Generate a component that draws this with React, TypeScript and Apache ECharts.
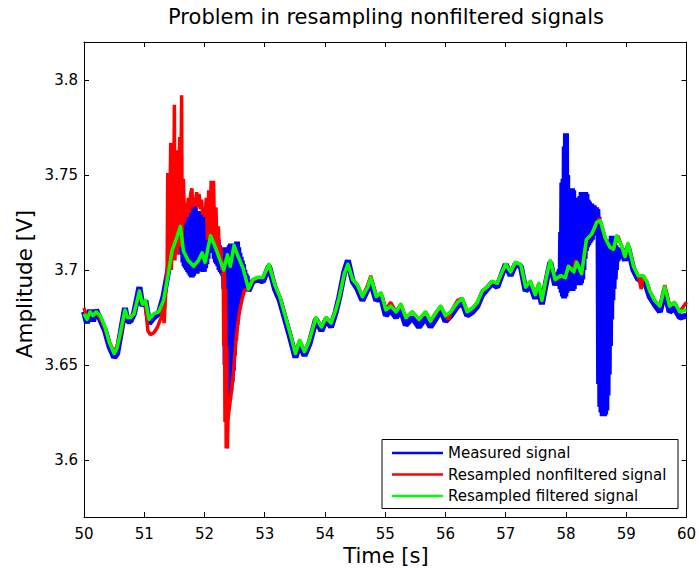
import React, { useEffect, useRef } from "react";
import * as echarts from "echarts";

const FONT = "'DejaVu Sans', 'Liberation Sans', Arial, sans-serif";

const titleText = "Problem in resampling nonfiltered signals";
const xName = "Time [s]";
const yName = "Amplitude [V]";
const seriesNames = ["Measured signal", "Resampled nonfiltered signal", "Resampled filtered signal"];
const seriesColors = ["#0000ff", "#ff0000", "#00ff00"];

const xMin = 50;
const xMax = 60;
const yMin = 3.57;
const yMax = 3.82;
const yTickValues = [3.6, 3.65, 3.7, 3.75, 3.8];

// Resampled filtered signal (green)
const greenT = [
  50.0, 50.05, 50.1, 50.15, 50.2, 50.27, 50.35, 50.42, 50.5, 50.55,
  50.61, 50.68, 50.72, 50.77, 50.83, 50.92, 50.97, 51.02, 51.08, 51.16,
  51.24, 51.32, 51.4, 51.46, 51.54, 51.6, 51.65, 51.73, 51.82, 51.9,
  51.96, 52.01, 52.1, 52.18, 52.26, 52.32, 52.38, 52.43, 52.49, 52.56,
  52.64, 52.73, 52.8, 52.88, 52.97, 53.07, 53.17, 53.25, 53.33, 53.41,
  53.51, 53.58, 53.66, 53.74, 53.85, 53.94, 54.02, 54.1, 54.18, 54.24,
  54.32, 54.38, 54.46, 54.54, 54.62, 54.71, 54.76, 54.85, 54.93, 55.01,
  55.09, 55.18, 55.26, 55.34, 55.45, 55.56, 55.67, 55.75, 55.83, 55.92,
  56.0, 56.09, 56.2, 56.28, 56.36, 56.45, 56.53, 56.61, 56.69, 56.77,
  56.86, 56.94, 57.0, 57.08, 57.16, 57.25, 57.33, 57.41, 57.49, 57.55,
  57.6, 57.68, 57.74, 57.82, 57.91, 57.99, 58.04, 58.13, 58.18, 58.26,
  58.34, 58.43, 58.51, 58.57, 58.65, 58.73, 58.79, 58.84, 58.92, 58.98,
  59.03, 59.12, 59.2, 59.28, 59.34, 59.39, 59.47, 59.56, 59.64, 59.72,
  59.8, 59.89, 60.0,
];
const greenV = [
  3.677, 3.674, 3.678, 3.676, 3.678, 3.676, 3.67, 3.662, 3.656, 3.659,
  3.668, 3.679, 3.675, 3.675, 3.677, 3.689, 3.682, 3.684, 3.674, 3.677,
  3.678, 3.684, 3.698, 3.71, 3.717, 3.723, 3.71, 3.705, 3.702, 3.705,
  3.709, 3.704, 3.718, 3.712, 3.705, 3.7, 3.708, 3.702, 3.713, 3.707,
  3.701, 3.69, 3.695, 3.696, 3.696, 3.703, 3.692, 3.686, 3.677, 3.668,
  3.656, 3.663, 3.657, 3.663, 3.675, 3.67, 3.675, 3.672, 3.679, 3.686,
  3.698, 3.703, 3.695, 3.692, 3.686, 3.691, 3.696, 3.686, 3.688, 3.679,
  3.681, 3.678, 3.682, 3.675, 3.678, 3.674, 3.678, 3.673, 3.677, 3.681,
  3.676, 3.678, 3.683, 3.685, 3.678, 3.68, 3.683, 3.689, 3.691, 3.694,
  3.693, 3.699, 3.703, 3.699, 3.704, 3.703, 3.691, 3.694, 3.687, 3.693,
  3.684, 3.697, 3.705, 3.695, 3.697, 3.696, 3.702, 3.699, 3.704, 3.698,
  3.716, 3.719, 3.725, 3.726, 3.717, 3.712, 3.711, 3.718, 3.713, 3.707,
  3.714, 3.702, 3.697, 3.697, 3.694, 3.689, 3.684, 3.681, 3.691, 3.681,
  3.683, 3.678, 3.679,
];

// Measured signal (blue): quiet stretches
const blueSeg1: [number, number][] = [
  [50.0, 3.678], [50.05, 3.672], [50.1, 3.679], [50.15, 3.673], [50.2, 3.679],
  [50.27, 3.674], [50.35, 3.668], [50.42, 3.66], [50.5, 3.654], [50.55, 3.656],
  [50.61, 3.667], [50.68, 3.68], [50.72, 3.673], [50.77, 3.673], [50.83, 3.677],
  [50.92, 3.691], [50.97, 3.681], [51.02, 3.684], [51.08, 3.672], [51.16, 3.675],
  [51.24, 3.677], [51.32, 3.686], [51.4, 3.7], [51.46, 3.712], [51.54, 3.72],
];
const blueSeg2: [number, number][] = [
  [52.73, 3.689], [52.8, 3.694], [52.88, 3.695], [52.97, 3.694], [53.07, 3.702],
  [53.17, 3.69], [53.25, 3.684], [53.33, 3.675], [53.41, 3.666], [53.51, 3.654],
  [53.58, 3.661], [53.66, 3.655], [53.74, 3.661], [53.85, 3.674], [53.94, 3.668],
  [54.02, 3.674], [54.1, 3.67], [54.18, 3.678], [54.24, 3.686], [54.32, 3.699],
  [54.38, 3.705], [54.46, 3.694], [54.54, 3.69], [54.62, 3.684], [54.71, 3.69],
  [54.76, 3.694], [54.85, 3.684], [54.93, 3.686], [55.01, 3.676], [55.09, 3.679],
  [55.18, 3.675], [55.26, 3.679], [55.34, 3.671], [55.45, 3.675], [55.56, 3.67],
  [55.67, 3.675], [55.75, 3.67], [55.83, 3.674], [55.92, 3.679], [56.0, 3.673],
  [56.09, 3.676], [56.2, 3.681], [56.28, 3.683], [56.36, 3.676], [56.45, 3.678],
  [56.53, 3.681], [56.61, 3.687], [56.69, 3.69], [56.77, 3.693], [56.86, 3.691],
  [56.94, 3.698], [57.0, 3.703], [57.08, 3.697], [57.16, 3.703], [57.25, 3.702],
  [57.33, 3.689], [57.41, 3.692], [57.49, 3.685], [57.55, 3.69], [57.6, 3.682],
  [57.68, 3.695], [57.74, 3.704], [57.82, 3.692],
];
const blueSeg3: [number, number][] = [
  [58.92, 3.711], [58.98, 3.705], [59.03, 3.712], [59.12, 3.7], [59.2, 3.695],
  [59.28, 3.695], [59.34, 3.691], [59.39, 3.686], [59.47, 3.682], [59.56, 3.678],
  [59.64, 3.689], [59.72, 3.678], [59.8, 3.68], [59.89, 3.675], [60.0, 3.676],
];

// Measured signal (blue): oscillating bands, sampled every 0.02 s (upper / lower envelope)
const bandStep = 0.02;
const bandAStart = 51.6;
const bandAUpper = [
  3.728, 3.73, 3.729, 3.731, 3.732, 3.733, 3.732, 3.734, 3.735, 3.735,
  3.736, 3.734, 3.733, 3.731, 3.73, 3.731, 3.73, 3.729, 3.728, 3.727,
  3.728, 3.726, 3.724, 3.722, 3.721, 3.722, 3.724, 3.727, 3.726, 3.722,
  3.718, 3.716, 3.713, 3.712, 3.711, 3.71,
  3.709, 3.712, 3.712, 3.71, 3.711, 3.713, 3.714, 3.712, 3.711, 3.712,
  3.713, 3.715, 3.712, 3.709, 3.707, 3.705, 3.703, 3.7, 3.698, 3.697,
];
const bandALower = [
  3.712, 3.708, 3.704, 3.702, 3.701, 3.7, 3.699, 3.698, 3.697, 3.696,
  3.697, 3.698, 3.699, 3.698, 3.699, 3.7, 3.702, 3.701, 3.7, 3.699,
  3.701, 3.703, 3.706, 3.71, 3.713, 3.714, 3.712, 3.709, 3.706, 3.704,
  3.703, 3.702, 3.7, 3.699, 3.698, 3.697,
  3.69, 3.65, 3.632, 3.628, 3.632, 3.636, 3.641, 3.647, 3.655, 3.663,
  3.671, 3.677, 3.682, 3.685, 3.688, 3.69, 3.692, 3.694, 3.694, 3.692,
];
const bandBStart = 57.9;
const bandBUpper = [
  3.7, 3.72, 3.746, 3.748, 3.765, 3.772, 3.75, 3.742, 3.73, 3.74,
  3.743, 3.742, 3.738, 3.733, 3.73, 3.731, 3.735, 3.739, 3.741, 3.741,
  3.738, 3.741, 3.74, 3.737, 3.736, 3.735, 3.735, 3.734, 3.734, 3.733,
  3.733, 3.732,
  3.728, 3.724, 3.72, 3.717, 3.715, 3.713, 3.712, 3.711, 3.712, 3.714,
  3.716, 3.718, 3.716, 3.714, 3.713, 3.712,
];
const bandBLower = [
  3.69, 3.688, 3.686, 3.685, 3.686, 3.688, 3.69, 3.693, 3.692, 3.69,
  3.689, 3.69, 3.693, 3.694, 3.695, 3.693, 3.692, 3.693, 3.695, 3.7,
  3.706, 3.71, 3.712, 3.713, 3.714, 3.715, 3.716, 3.718, 3.719, 3.72,
  3.721, 3.722,
  3.64, 3.628, 3.625, 3.623, 3.623, 3.624, 3.626, 3.634, 3.645, 3.66,
  3.674, 3.684, 3.69, 3.695, 3.7, 3.705,
];

// Resampled nonfiltered signal (red)
const redSeg1: [number, number][] = [
  [50.0, 3.68], [50.05, 3.675], [50.1, 3.677], [50.15, 3.676], [50.2, 3.677],
  [50.27, 3.675], [50.35, 3.669], [50.42, 3.662], [50.5, 3.657], [50.55, 3.66],
  [50.61, 3.666], [50.68, 3.678], [50.72, 3.675], [50.77, 3.675], [50.83, 3.677],
  [50.92, 3.688], [50.97, 3.682], [51.02, 3.682], [51.06, 3.668], [51.1, 3.666],
  [51.16, 3.667], [51.22, 3.67], [51.28, 3.675],
];
const redBurst: [number, number][] = [
  [51.3, 3.682], [51.33, 3.672], [51.36, 3.69], [51.38, 3.7], [51.39, 3.751],
  [51.4, 3.7], [51.42, 3.72], [51.44, 3.767], [51.45, 3.7], [51.47, 3.73],
  [51.49, 3.735], [51.5, 3.787], [51.51, 3.705], [51.53, 3.74], [51.54, 3.763],
  [51.55, 3.708], [51.57, 3.745], [51.59, 3.77], [51.6, 3.712], [51.62, 3.792],
  [51.63, 3.715], [51.65, 3.748], [51.67, 3.725], [51.69, 3.735], [51.71, 3.728],
  [51.73, 3.738], [51.75, 3.73], [51.77, 3.74], [51.79, 3.743], [51.81, 3.733],
  [51.83, 3.737], [51.85, 3.735], [51.87, 3.741], [51.89, 3.733], [51.91, 3.74],
  [51.93, 3.732], [51.95, 3.737], [51.97, 3.729], [51.99, 3.732], [52.01, 3.728],
  [52.03, 3.738], [52.05, 3.716], [52.07, 3.742], [52.09, 3.714], [52.11, 3.747],
  [52.13, 3.716], [52.15, 3.747], [52.17, 3.714], [52.19, 3.733], [52.21, 3.71],
  [52.23, 3.723], [52.25, 3.706], [52.27, 3.712], [52.29, 3.7], [52.31, 3.705],
  [52.32, 3.66], [52.33, 3.7], [52.34, 3.62], [52.35, 3.69], [52.36, 3.606],
  [52.37, 3.66], [52.38, 3.606], [52.39, 3.621], [52.41, 3.627], [52.43, 3.632],
  [52.45, 3.637], [52.47, 3.643], [52.49, 3.65], [52.52, 3.662], [52.55, 3.671],
  [52.58, 3.678], [52.62, 3.684], [52.66, 3.689], [52.7, 3.69],
];
const redSeg2: [number, number][] = [
  [52.73, 3.69], [52.8, 3.694], [52.88, 3.696], [52.97, 3.696], [53.07, 3.703],
  [53.17, 3.692], [53.25, 3.686], [53.33, 3.677], [53.41, 3.668], [53.51, 3.656],
  [53.58, 3.663], [53.66, 3.657], [53.74, 3.663], [53.85, 3.675], [53.94, 3.67],
  [54.02, 3.675], [54.1, 3.672], [54.18, 3.679], [54.24, 3.686], [54.32, 3.698],
  [54.38, 3.703], [54.46, 3.695], [54.54, 3.692], [54.62, 3.686], [54.71, 3.692],
  [54.76, 3.697], [54.85, 3.686], [54.93, 3.688], [55.01, 3.679], [55.09, 3.683],
  [55.18, 3.678], [55.26, 3.682], [55.34, 3.675], [55.45, 3.678], [55.56, 3.674],
  [55.67, 3.678], [55.75, 3.673], [55.83, 3.677], [55.92, 3.681], [56.0, 3.676],
  [56.05, 3.674], [56.09, 3.678], [56.2, 3.684], [56.28, 3.685], [56.36, 3.678],
  [56.45, 3.68], [56.53, 3.683], [56.61, 3.689], [56.69, 3.691], [56.77, 3.694],
  [56.86, 3.693], [56.94, 3.699], [57.0, 3.703], [57.08, 3.699], [57.16, 3.704],
  [57.25, 3.703], [57.33, 3.691], [57.41, 3.694], [57.49, 3.687], [57.55, 3.693],
  [57.6, 3.684], [57.68, 3.697], [57.74, 3.705], [57.82, 3.695], [57.91, 3.697],
  [57.99, 3.696], [58.04, 3.702], [58.13, 3.7], [58.16, 3.705], [58.18, 3.704],
  [58.26, 3.698], [58.34, 3.716], [58.43, 3.719], [58.51, 3.725], [58.55, 3.727],
  [58.57, 3.726], [58.65, 3.717], [58.73, 3.712], [58.79, 3.711], [58.86, 3.718],
  [58.92, 3.713], [58.98, 3.707], [59.03, 3.714], [59.12, 3.702], [59.2, 3.697],
  [59.25, 3.69], [59.28, 3.697], [59.34, 3.694], [59.39, 3.689], [59.47, 3.684],
  [59.56, 3.681], [59.64, 3.692], [59.72, 3.681], [59.8, 3.683], [59.89, 3.678],
  [60.0, 3.683],
];

function bandPoints(start: number, upper: number[], lower: number[]): [number, number][] {
  const pts: [number, number][] = [];
  for (let i = 0; i < upper.length; i++) {
    const t = +(start + i * bandStep).toFixed(3);
    pts.push([t, upper[i]]);
    pts.push([+(t + bandStep / 2).toFixed(3), lower[i]]);
  }
  return pts;
}

export default function App() {
  const ref = useRef<HTMLDivElement>(null);

  useEffect(() => {
    if (!ref.current) return;
    const chart = echarts.init(ref.current, undefined, { renderer: "svg" });

    const blueData = [
      ...blueSeg1,
      ...bandPoints(bandAStart, bandAUpper, bandALower),
      ...blueSeg2,
      ...bandPoints(bandBStart, bandBUpper, bandBLower),
      ...blueSeg3,
    ];
    const redData = [...redSeg1, ...redBurst, ...redSeg2];
    const greenData = greenT.map((t, i) => [t, greenV[i]]);

    const axisLine = { show: true, onZero: false, lineStyle: { color: "#000", width: 1 } };
    const axisTick = { show: true, inside: true, length: 5, lineStyle: { color: "#000", width: 1 } };
    const labelStyle = { fontFamily: FONT, fontSize: 15, color: "#000" };

    const option: any = {
      animation: false,
      backgroundColor: "#fff",
      grid: { left: 84, top: 42, width: 604, height: 475, show: false },
      xAxis: [
        {
          type: "value", min: xMin, max: xMax, interval: 1, position: "bottom",
          axisLine, axisTick,
          axisLabel: { ...labelStyle, margin: 9 },
          splitLine: { show: false },
        },
        {
          type: "value", min: xMin, max: xMax, interval: 1, position: "top",
          axisLine, axisTick,
          axisLabel: { show: false },
          splitLine: { show: false },
        },
      ],
      yAxis: [
        {
          type: "value", min: yMin, max: yMax, position: "left",
          axisLine,
          axisTick: { ...axisTick, customValues: yTickValues },
          axisLabel: {
            ...labelStyle, margin: 6, customValues: yTickValues,
            formatter: (v: number) => String(+v.toFixed(2)),
          },
          splitLine: { show: false },
        },
        {
          type: "value", min: yMin, max: yMax, position: "right",
          axisLine,
          axisTick: { ...axisTick, customValues: yTickValues },
          axisLabel: { show: false, customValues: yTickValues },
          splitLine: { show: false },
        },
      ],
      legend: {
        left: 392, top: 445, orient: "vertical", padding: 0,
        itemWidth: 51, itemHeight: 16, itemGap: 5.5,
        icon: "path://M0,0 L51,0 L51,2.5 L0,2.5 Z",
        selectedMode: false, z: 20,
        textStyle: { fontFamily: FONT, fontSize: 15, color: "#000", lineHeight: 16 },
        data: seriesNames,
      },
      graphic: [
        {
          type: "rect", z: 10,
          shape: { x: 382, y: 439.5, width: 296, height: 69 },
          style: { fill: "#fff", stroke: "#000", lineWidth: 1 },
        },
        {
          type: "text", x: 386, y: 17,
          style: { text: titleText, font: `21px ${FONT}`, fill: "#000", textAlign: "center", textVerticalAlign: "middle" },
        },
        {
          type: "text", x: 386, y: 556,
          style: { text: xName, font: `21px ${FONT}`, fill: "#000", textAlign: "center", textVerticalAlign: "middle" },
        },
        {
          type: "text", x: 24, y: 284, rotation: Math.PI / 2,
          style: { text: yName, font: `21.5px ${FONT}`, fill: "#000", textAlign: "center", textVerticalAlign: "middle" },
        },
      ],
      series: [
        {
          name: seriesNames[0], type: "line", data: blueData, showSymbol: false, symbol: "none",
          color: seriesColors[0], itemStyle: { color: seriesColors[0] },
          lineStyle: { color: seriesColors[0], width: 6, join: "bevel" },
          clip: true, z: 2,
        },
        {
          name: seriesNames[1], type: "line", data: redData, showSymbol: false, symbol: "none",
          color: seriesColors[1], itemStyle: { color: seriesColors[1] },
          lineStyle: { color: seriesColors[1], width: 3.5, join: "bevel" },
          clip: true, z: 3,
        },
        {
          name: seriesNames[2], type: "line", data: greenData, showSymbol: false, symbol: "none",
          color: seriesColors[2], itemStyle: { color: seriesColors[2] },
          lineStyle: { color: seriesColors[2], width: 3.5, join: "round" },
          clip: true, z: 4,
        },
      ],
    };

    chart.setOption(option);
    return () => chart.dispose();
  }, []);

  return (
    <div
      ref={ref}
      style={{ position: "absolute", left: 0, top: 0, width: 699, height: 572, background: "#fff" }}
    />
  );
}
